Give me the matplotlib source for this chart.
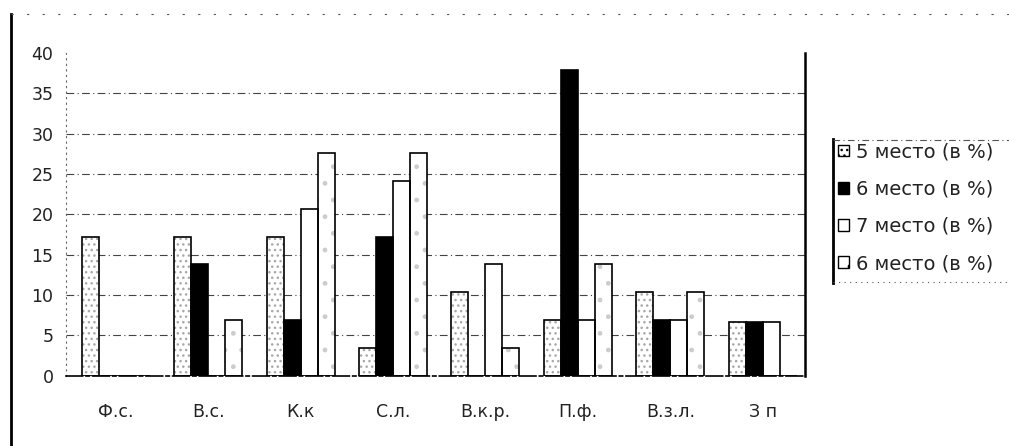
import numpy as np
import matplotlib
matplotlib.use('Agg')
import matplotlib.pyplot as plt
from matplotlib.lines import Line2D
from matplotlib.patches import Patch

plt.rcParams['font.family'] = ['DejaVu Sans']

categories = ['Ф.с.', 'В.с.', 'К.к', 'С.л.', 'В.к.р.', 'П.ф.', 'В.з.л.', 'З п']
place5 = [17.2, 17.2, 17.2, 3.4, 10.3, 6.9, 10.3, 6.7]
place6 = [0, 13.8, 6.9, 17.2, 0, 37.9, 6.9, 6.7]
place7 = [0, 0, 20.7, 24.1, 13.8, 6.9, 6.9, 6.7]
place8 = [0, 6.9, 27.6, 27.6, 3.4, 13.8, 10.3, 0]
labels = ['5 место (в %)', '6 место (в %)', '7 место (в %)', '6 место (в %)']

fig = plt.figure(figsize=(10.09, 4.46), dpi=100)
ax = fig.add_axes([0.0654, 0.158, 0.7326, 0.723])

x = np.arange(len(categories))
w = 0.184
series = [place5, place6, place7, place8]
# (face, hatch, hatch colour)
styles = [('white', '...', '#a8a8a8'),
          ('black', None, 'black'),
          ('white', None, 'black'),
          ('white', '.', '#cccccc')]

for i, (vals, (fc, hatch, hc)) in enumerate(zip(series, styles)):
    pos = x + 0.04 + (i - 1.5) * w
    if hatch:
        ax.bar(pos, vals, w, color=fc, edgecolor=hc, hatch=hatch, linewidth=0, zorder=2)
    else:
        ax.bar(pos, vals, w, color=fc, linewidth=0, zorder=2)
    ax.bar(pos, vals, w, fill=False, edgecolor='black', linewidth=1.2, zorder=3)

ax.set_xlim(-0.5, len(categories) - 0.5)
ax.set_ylim(0, 40)
ax.set_yticks(range(0, 41, 5))
ax.set_xticks(x + 0.04)
ax.set_xticklabels(categories)
ax.tick_params(axis='y', length=0, pad=9, labelsize=12.5, colors='#222222')
ax.tick_params(axis='x', length=0, pad=20, labelsize=12.5, colors='#222222')

for y in range(5, 40, 5):
    ax.axhline(y, color='#444444', linewidth=0.8, linestyle=(0, (7, 3, 1, 3)), zorder=1)

ax.spines['top'].set_visible(False)
ax.spines['left'].set_linestyle((0, (1, 4)))
ax.spines['left'].set_color('#666666')
ax.spines['left'].set_linewidth(0.8)
ax.spines['bottom'].set_linestyle((0, (10, 2, 2, 2)))
ax.spines['bottom'].set_linewidth(1.2)
ax.spines['right'].set_linewidth(1.8)

handles = [Patch(facecolor=fc, edgecolor='black', hatch=h, linewidth=1)
           for fc, h, _ in styles]
fig.legend(handles, labels, loc='upper left', bbox_to_anchor=(0.831, 0.681),
           frameon=False, fontsize=14, handlelength=0.55, handleheight=0.55,
           handletextpad=0.35, labelspacing=0.94, borderpad=0, borderaxespad=0,
           labelcolor='#222222')

# legend frame: bold left edge, dotted top and bottom
fig.add_artist(Line2D([0.826, 0.826], [0.365, 0.688], color='black', linewidth=2))
fig.add_artist(Line2D([0.826, 1.0], [0.686, 0.686], color='#555555', linewidth=0.8,
                      linestyle=(0, (6, 3, 1, 3))))
fig.add_artist(Line2D([0.826, 1.0], [0.367, 0.367], color='#555555', linewidth=0.8,
                      linestyle=(0, (1, 4))))

# outer frame of the figure
fig.add_artist(Line2D([0.0105, 0.0105], [0.0, 0.968], color='black', linewidth=2))
fig.add_artist(Line2D([0.0105, 1.0], [0.968, 0.968], color='#555555', linewidth=0.8,
                      linestyle=(0, (2, 12))))

fig.savefig('out.png', dpi=100)
